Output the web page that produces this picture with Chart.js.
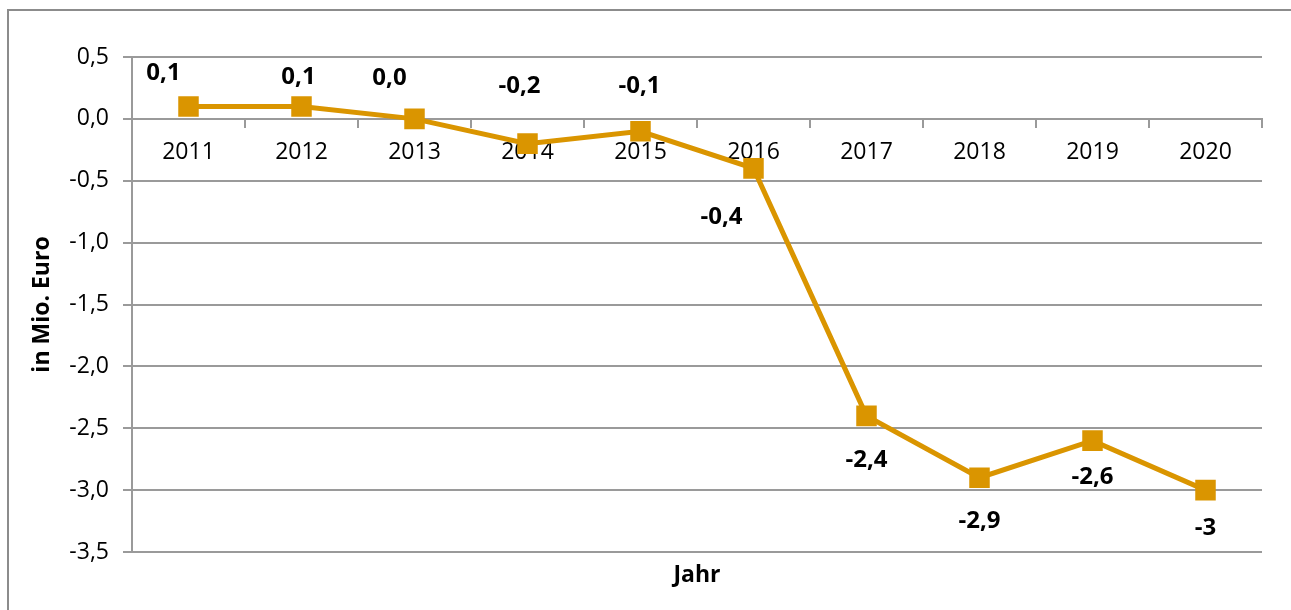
<!DOCTYPE html>
<html lang="de">
<head>
    <meta charset="UTF-8">
    <title>Jahr / in Mio. Euro</title>
    <script src="https://cdn.jsdelivr.net/npm/chart.js"></script>
    <style>
        html, body { margin: 0; padding: 0; background: #fff; }
        canvas { display: block; }
    </style>
</head>
<body>
    <canvas id="lineChart" width="1291" height="610"></canvas>

    <script>
        const years = ['2011', '2012', '2013', '2014', '2015', '2016', '2017', '2018', '2019', '2020'];
        const values = [0.1, 0.1, 0.0, -0.2, -0.1, -0.4, -2.4, -2.9, -2.6, -3];
        const valueLabels = ['0,1', '0,1', '0,0', '-0,2', '-0,1', '-0,4', '-2,4', '-2,9', '-2,6', '-3'];

        const orange = '#da9500';
        const gray = '#9a9a9a';
        const font = '"Open Sans", "Noto Sans", sans-serif';

        // label placement relative to each point (like the manually moved labels in the original)
        const labelShift = [[-25, -33], [-3, -29], [-25, -41], [-8, -57], [-1, -45],
                            [-32, 49], [0, 44], [0, 43], [0, 37], [0, 38]];

        const extras = {
            id: 'extras',
            beforeDraw(chart) {
                const c = chart.ctx;
                c.save();
                c.fillStyle = '#fff';
                c.fillRect(0, 0, chart.width, chart.height);
                c.strokeStyle = '#8c8c8c';
                c.lineWidth = 2;
                c.beginPath();
                c.moveTo(8, chart.height + 5);
                c.lineTo(8, 10);
                c.lineTo(chart.width + 5, 10);
                c.stroke();
                c.restore();
            },
            afterDatasetsDraw(chart) {
                const c = chart.ctx;
                const meta = chart.getDatasetMeta(0);
                c.save();
                c.fillStyle = '#000';
                c.font = 'bold 24px ' + font;
                c.textAlign = 'center';
                c.textBaseline = 'middle';
                meta.data.forEach((pt, i) => {
                    const s = labelShift[i];
                    c.fillText(valueLabels[i], pt.x + s[0], pt.y + s[1]);
                });
                const area = chart.chartArea;
                c.font = 'bold 23px ' + font;
                c.fillText('Jahr', (area.left + area.right) / 2, area.bottom + 23);
                c.restore();
            }
        };

        new Chart(document.getElementById('lineChart'), {
            type: 'line',
            data: {
                labels: years,
                datasets: [{
                    data: values,
                    borderColor: orange,
                    backgroundColor: orange,
                    borderWidth: 5,
                    pointStyle: 'rect',
                    pointRadius: 14.5,
                    pointHoverRadius: 14.5,
                    pointBorderWidth: 0,
                    tension: 0
                }]
            },
            options: {
                responsive: false,
                animation: false,
                layout: { padding: { left: 0, top: 57, right: 29, bottom: 58 } },
                plugins: {
                    legend: { display: false },
                    tooltip: { enabled: false }
                },
                scales: {
                    x: {
                        position: { y: 0 },
                        offset: true,
                        afterFit(scale) { scale.height = 28; },
                        grid: {
                            offset: true,
                            drawOnChartArea: false,
                            drawTicks: true,
                            tickLength: 8,
                            color: gray,
                            lineWidth: 2
                        },
                        border: { color: gray, width: 2 },
                        ticks: {
                            color: '#000',
                            padding: 12,
                            maxRotation: 0,
                            font: { family: font, size: 23 }
                        }
                    },
                    y: {
                        min: -3.5,
                        max: 0.5,
                        afterFit(scale) { scale.width = 132; },
                        grid: {
                            color: gray,
                            lineWidth: 2,
                            tickLength: 9
                        },
                        border: { color: gray, width: 2 },
                        ticks: {
                            stepSize: 0.5,
                            color: '#000',
                            padding: 14,
                            font: { family: font, size: 23 },
                            callback: v => v.toFixed(1).replace('.', ',')
                        },
                        title: {
                            display: true,
                            text: 'in Mio. Euro',
                            color: '#000',
                            font: { family: font, size: 23, weight: 'bold' },
                            padding: { top: 29, bottom: 0 }
                        }
                    }
                }
            },
            plugins: [extras]
        });
    </script>
</body>
</html>
